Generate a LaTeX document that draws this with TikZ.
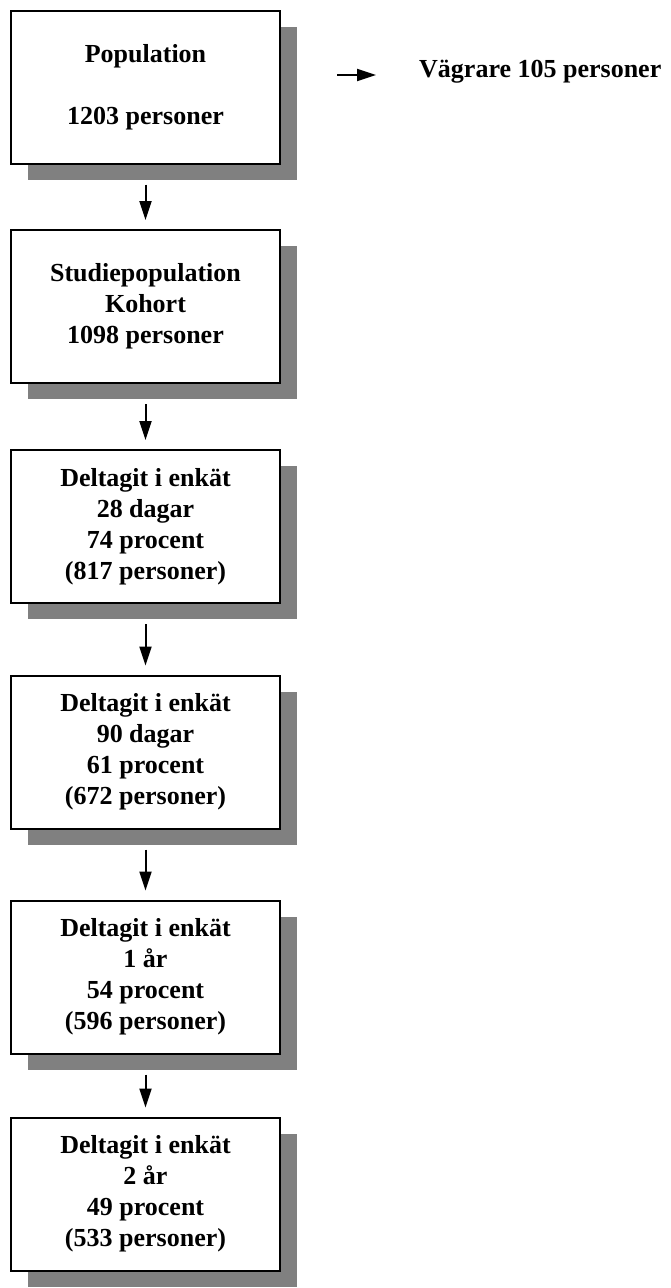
\documentclass[tikz,border=0pt]{standalone}
\usepackage{fontspec}
\setmainfont{Liberation Serif}
\usetikzlibrary{arrows.meta,shadows}

\newcommand{\stagebox}[3]{%
 \node[stage] ({#1}) at ({#2}) {#3};%
}

\begin{document}
\begin{tikzpicture}[x=1pt,y=-1pt,
  every node/.style={font=\fontsize{26}{31}\selectfont\bfseries},
  stage/.style={draw,line width=2pt,fill=white,align=center,
    minimum width=269pt,minimum height=153pt,
    drop shadow={shadow xshift=17pt,shadow yshift=-16pt,fill=black!50,opacity=1}},
  flow/.style={line width=2pt,-{Triangle[length=19pt,width=12pt]}}]
   \useasboundingbox (0,0) rectangle (670,1288);
   \stagebox{pop}{145.5,87}{Population\\[31pt]1203 personer}
   \stagebox{studie}{145.5,306.5}{Studiepopulation\\Kohort\\1098 personer}
   \stagebox{d28}{145.5,526.5}{Deltagit i enkät\\28 dagar\\74 procent\\(817 personer)}
   \stagebox{d90}{145.5,752}{Deltagit i enkät\\90 dagar\\61 procent\\(672 personer)}
   \stagebox{y1}{145.5,977}{Deltagit i enkät\\1 år\\54 procent\\(596 personer)}
   \stagebox{y2}{145.5,1194}{Deltagit i enkät\\2 år\\49 procent\\(533 personer)}
   % bortfall
   \coordinate (vstart) at (337,75);
   \node[anchor=west,inner sep=0pt] (vagrare) at (419,72) {Vägrare 105 personer};
   \draw[flow,shorten >=43pt] (vstart) -- (vstart -| vagrare.west);
   \path[flow,shorten <=20pt,shorten >=9pt] (pop) edge (studie);
   \path[flow,shorten <=20pt,shorten >=9pt] (studie) edge (d28);
   \path[flow,shorten <=20pt,shorten >=9pt] (d28) edge (d90);
   \path[flow,shorten <=20pt,shorten >=9pt] (d90) edge (y1);
   \path[flow,shorten <=20pt,shorten >=9pt] (y1) edge (y2);
\end{tikzpicture}
\end{document}
